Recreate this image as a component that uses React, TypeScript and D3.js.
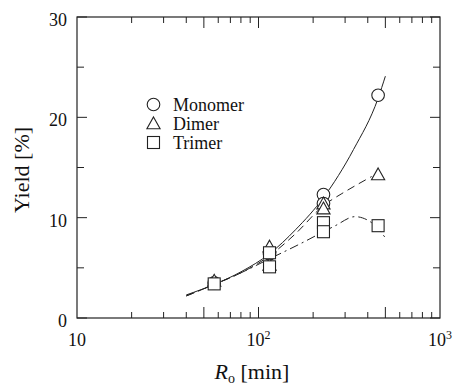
import React from "react";
import * as d3 from "d3";

const W = 457, H = 387;
const M = { left: 77, right: 440, top: 17, bottom: 318 };

// Measured data (Ro [min], yield %)
const monomerX = [57, 115, 228, 228, 456];
const monomerY = [3.5, 6.4, 12.3, 11.4, 22.2];
const dimerX = [57, 115, 115, 228, 228, 456];
const dimerY = [3.7, 7.1, 5.3, 11.4, 10.9, 14.3];
const trimerX = [57, 115, 115, 228, 228, 456];
const trimerY = [3.4, 6.5, 5.1, 9.5, 8.6, 9.2];

// Fitted curves
const monoCurveX = [40, 58, 80, 115, 160, 228, 334, 456, 500];
const monoCurveY = [2.3, 3.4, 4.6, 6.4, 8.8, 12.0, 16.8, 21.9, 24.1];
const diCurveX = [40, 58, 80, 115, 160, 228, 288, 350, 420];
const diCurveY = [2.2, 3.4, 4.5, 6.2, 8.4, 11.2, 12.4, 13.3, 14.1];
const triCurveX = [40, 58, 80, 115, 170, 228, 265, 340, 420, 500];
const triCurveY = [2.2, 3.4, 4.5, 5.9, 7.4, 8.6, 9.2, 10.1, 9.5, 8.0];

const xMinor = [20, 30, 40, 60, 70, 80, 90, 200, 300, 400, 600, 700, 800, 900];
const xLong = [50, 100, 500];
const xLabels = [
  { v: 10, base: "10", sup: "" },
  { v: 100, base: "10", sup: "2" },
  { v: 1000, base: "10", sup: "3" },
];
const yMajor = [0, 10, 20, 30];
const yMinor = [5, 15, 25];

const legendItems = ["Monomer", "Dimer", "Trimer"];

const x = d3.scaleLog().domain([10, 1000]).range([M.left, M.right]);
const y = d3.scaleLinear().domain([0, 30]).range([M.bottom, M.top]);

const FONT = "Liberation Serif, Times New Roman, Times, DejaVu Serif, serif";
const STROKE = "#222";
const TXT: React.CSSProperties = { fontFamily: FONT };

function curvePath(xs: number[], ys: number[]) {
  const line = d3
    .line<number>()
    .x((_, i) => x(xs[i]))
    .y((_, i) => y(ys[i]))
    .curve(d3.curveMonotoneX);
  return line(xs) || "";
}

function Marker({ kind, cx, cy }: { kind: number; cx: number; cy: number }) {
  const common = { fill: "white", stroke: STROKE, strokeWidth: 1.1 };
  if (kind === 0) return <circle cx={cx} cy={cy} r={6.3} {...common} />;
  if (kind === 1) {
    const s = 6.6;
    const p = `M${cx},${cy - s * 1.0}L${cx + s},${cy + s * 0.8}L${cx - s},${cy + s * 0.8}Z`;
    return <path d={p} {...common} />;
  }
  return <rect x={cx - 6} y={cy - 6} width={12} height={12} {...common} />;
}

export default function App() {
  const series = [
    { xs: monomerX, ys: monomerY },
    { xs: dimerX, ys: dimerY },
    { xs: trimerX, ys: trimerY },
  ];
  return (
    <svg width={W} height={H} style={{ position: "absolute", left: 0, top: 0 }}>
      <rect x={0} y={0} width={W} height={H} fill="white" />
      {/* curves */}
      <path d={curvePath(monoCurveX, monoCurveY)} fill="none" stroke={STROKE} strokeWidth={1} />
      <path d={curvePath(diCurveX, diCurveY)} fill="none" stroke={STROKE} strokeWidth={1} strokeDasharray="8 5" />
      <path d={curvePath(triCurveX, triCurveY)} fill="none" stroke={STROKE} strokeWidth={1} strokeDasharray="9 4 2 4" />
      {/* markers */}
      {series.map((s, k) =>
        s.xs.map((xv, i) => <Marker key={`${k}-${i}`} kind={k} cx={x(xv)} cy={y(s.ys[i])} />)
      )}
      {/* frame */}
      <rect x={M.left} y={M.top} width={M.right - M.left} height={M.bottom - M.top} fill="none" stroke={STROKE} strokeWidth={1.2} />
      {/* x ticks */}
      {xMinor.map((v) => (
        <g key={`xm${v}`}>
          <line x1={x(v)} x2={x(v)} y1={M.bottom} y2={M.bottom - 6} stroke={STROKE} />
          <line x1={x(v)} x2={x(v)} y1={M.top} y2={M.top + 6} stroke={STROKE} />
        </g>
      ))}
      {xLong.map((v) => (
        <g key={`xl${v}`}>
          <line x1={x(v)} x2={x(v)} y1={M.bottom} y2={M.bottom - 11} stroke={STROKE} />
          <line x1={x(v)} x2={x(v)} y1={M.top} y2={M.top + 11} stroke={STROKE} />
        </g>
      ))}
      {/* y ticks */}
      {yMajor.map((v) => (
        <g key={`ym${v}`}>
          <line x1={M.left} x2={M.left + 10} y1={y(v)} y2={y(v)} stroke={STROKE} />
          <line x1={M.right} x2={M.right - 10} y1={y(v)} y2={y(v)} stroke={STROKE} />
        </g>
      ))}
      {yMinor.map((v) => (
        <g key={`yn${v}`}>
          <line x1={M.left} x2={M.left + 7} y1={y(v)} y2={y(v)} stroke={STROKE} />
          <line x1={M.right} x2={M.right - 7} y1={y(v)} y2={y(v)} stroke={STROKE} />
        </g>
      ))}
      {/* y tick labels */}
      {yMajor.map((v) => (
        <text key={`yl${v}`} x={M.left - 10} y={y(v) + 9} textAnchor="end" style={TXT} fontSize={18} fill="#111">
          {v}
        </text>
      ))}
      {/* x tick labels */}
      {xLabels.map((l) => (
        <text key={`xl${l.v}`} x={x(l.v)} y={346} textAnchor="middle" style={TXT} fontSize={18} fill="#111">
          {l.base}
          {l.sup && (
            <tspan dy={-7} fontSize={12}>
              {l.sup}
            </tspan>
          )}
        </text>
      ))}
      {/* axis titles */}
      <text x={252} y={379} textAnchor="middle" style={TXT} fontSize={22} fill="#111">
        <tspan fontStyle="italic">R</tspan>
        <tspan fontSize={14} dy={4}>o</tspan>
        <tspan dy={-4}> [min]</tspan>
      </text>
      <text
        transform={`translate(29,170) rotate(-90)`}
        textAnchor="middle"
        style={TXT}
        fontSize={22}
        fill="#111"
      >
        Yield [%]
      </text>
      {/* legend */}
      {legendItems.map((name, i) => (
        <g key={name}>
          <Marker kind={i} cx={153.5} cy={104.5 + i * 19} />
          <text x={173} y={111 + i * 19} style={TXT} fontSize={18} fill="#111">
            {name}
          </text>
        </g>
      ))}
    </svg>
  );
}
